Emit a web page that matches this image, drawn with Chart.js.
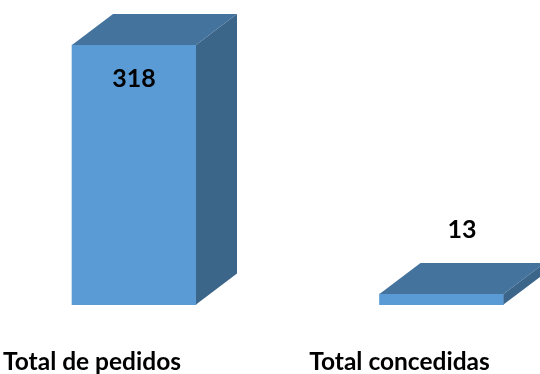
<!DOCTYPE html>
<html>
<head>
<meta charset="utf-8">
<script src="https://cdn.jsdelivr.net/npm/chart.js@4/dist/chart.umd.min.js"></script>
<style>
  html, body { margin: 0; padding: 0; background: #fff; }
  #wrap { width: 540px; height: 374px; }
</style>
</head>
<body>
<div id="wrap"><canvas id="pedidosChart" width="540" height="374"></canvas></div>
<script>
// categories and totals
const categories = ["Total de pedidos", "Total concedidas"];
const totals = [318, 13];

// box colours: front, top and right side
const frontColor = "#5B9BD5";
const topColor = "#44739E";
const sideColor = "#3B6589";

// depth of the fake 3d box in pixels
const depthX = 41;
const depthY = 31;

const labelFont = "Lato, 'Open Sans', sans-serif";

// draws the top and side faces behind each bar, then the value labels
const boxPlugin = {
    id: "box3d",
    afterDatasetsDraw (chart) {
        const ctx = chart.ctx;
        const meta = chart.getDatasetMeta(0);
        meta.data.forEach((bar, i) => {
            const left = bar.x - bar.width / 2;
            const right = bar.x + bar.width / 2;
            const top = bar.y;
            const bottom = bar.base;

            // top face
            ctx.fillStyle = topColor;
            ctx.beginPath();
            ctx.moveTo(left, top);
            ctx.lineTo(left + depthX, top - depthY);
            ctx.lineTo(right + depthX, top - depthY);
            ctx.lineTo(right, top);
            ctx.closePath();
            ctx.fill();

            // right side face
            ctx.fillStyle = sideColor;
            ctx.beginPath();
            ctx.moveTo(right, top);
            ctx.lineTo(right + depthX, top - depthY);
            ctx.lineTo(right + depthX, bottom - depthY);
            ctx.lineTo(right, bottom);
            ctx.closePath();
            ctx.fill();

            // value label: inside the bar if it is tall enough, above it otherwise
            ctx.save();
            ctx.fillStyle = "#000";
            ctx.font = "bold 25px " + labelFont;
            ctx.textAlign = "center";
            ctx.textBaseline = "middle";
            const text = String(totals[i]);
            if (bottom - top > 80) {
                ctx.fillText(text, bar.x, top + 34);
            } else {
                ctx.fillText(text, bar.x + depthX / 2, top - depthY - 33);
            }
            ctx.restore();
        });
    }
};

new Chart("pedidosChart", {
    type: "bar",
    data: {
        labels: categories,
        datasets: [{
            data: totals,
            backgroundColor: frontColor,
            borderWidth: 0,
            barThickness: 124,
            clip: false
        }]
    },
    options: {
        responsive: false,
        animation: false,
        layout: { padding: { left: 134, right: 98.5, top: 19, bottom: -46 } },
        plugins: {
            legend: { display: false },
            tooltip: { enabled: false }
        },
        scales: {
            x: {
                offset: false,
                grid: { display: false, drawTicks: false },
                border: { display: false },
                ticks: {
                    color: "#000",
                    font: { family: labelFont, size: 24.5, weight: "bold" },
                    padding: 43,
                    labelOffset: -42,
                    maxRotation: 0
                },
                // keep the category labels from pushing the plot area inwards
                afterFit (scale) {
                    scale.paddingLeft = 0;
                    scale.paddingRight = 0;
                }
            },
            y: {
                display: false,
                min: 0,
                max: 350
            }
        }
    },
    plugins: [boxPlugin]
});
</script>
</body>
</html>
